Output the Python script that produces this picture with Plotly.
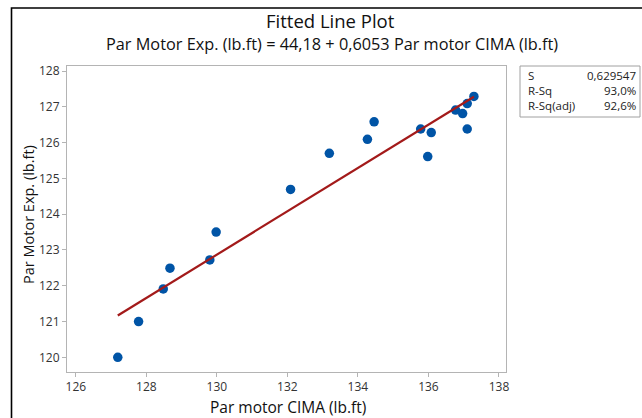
import plotly.graph_objects as go

# Dados
par_cima = [127.19, 127.78, 128.48, 128.67, 129.80, 129.98, 132.09, 133.19, 134.27,
            134.46, 135.78, 135.98, 136.08, 136.77, 136.97, 137.10, 137.10, 137.29]
par_exp = [120.00, 121.00, 121.91, 122.49, 122.72, 123.50, 124.69, 125.70, 126.09,
           126.58, 126.38, 125.61, 126.28, 126.91, 126.81, 127.09, 126.38, 127.29]

intercepto = 44.18
inclinacao = 0.6053

stats_labels = ["S", "R-Sq", "R-Sq(adj)"]
stats_values = ["0,629547", "93,0%", "92,6%"]

W, H = 642, 418
L, R, T, B = 67, 136, 66, 46
pw, ph = W - L - R, H - T - B


def px_x(x):
    return (x - L) / pw


def px_y(y):
    return (H - B - y) / ph


FONT = "Open Sans, Noto Sans, sans-serif"

x_fit = [min(par_cima), max(par_cima)]
y_fit = [intercepto + inclinacao * x for x in x_fit]

fig = go.Figure()

fig.add_trace(go.Scatter(
    x=par_cima, y=par_exp, mode="markers",
    marker=dict(color="#0054A6", size=9.5),
    showlegend=False
))

fig.add_trace(go.Scatter(
    x=x_fit, y=y_fit, mode="lines",
    line=dict(color="#A31A1A", width=2.2),
    showlegend=False
))

fig.update_layout(
    width=W, height=H,
    margin=dict(l=L, r=R, t=T, b=B),
    paper_bgcolor="white",
    plot_bgcolor="white",
    font=dict(family=FONT, color="#222222", size=12),
    xaxis=dict(
        range=[125.75, 138.2], tickvals=[126, 128, 130, 132, 134, 136, 138],
        showgrid=False, zeroline=False,
        showline=True, linecolor="#b4b4b4", linewidth=1, mirror=True,
        ticks="outside", ticklen=4, tickcolor="#b4b4b4",
        tickfont=dict(size=12, color="#333333"),
    ),
    yaxis=dict(
        range=[119.59, 128.14], tickvals=[120, 121, 122, 123, 124, 125, 126, 127, 128],
        showgrid=False, zeroline=False,
        showline=True, linecolor="#b4b4b4", linewidth=1, mirror=True,
        ticks="outside", ticklen=4, tickcolor="#b4b4b4",
        tickfont=dict(size=12, color="#333333"),
    ),
)

# Títulos
fig.add_annotation(
    text="Fitted Line Plot", xref="paper", yref="paper",
    x=px_x(330), y=px_y(20), showarrow=False,
    font=dict(size=18.5, color="#111111", family=FONT), xanchor="center", yanchor="middle"
)
fig.add_annotation(
    text="Par Motor Exp. (lb.ft) = 44,18 + 0,6053 Par motor CIMA (lb.ft)",
    xref="paper", yref="paper",
    x=px_x(332), y=px_y(44), showarrow=False,
    font=dict(size=16.3, color="#111111", family=FONT), xanchor="center", yanchor="middle"
)
fig.add_annotation(
    text="Par motor CIMA (lb.ft)", xref="paper", yref="paper",
    x=px_x(288), y=px_y(407), showarrow=False,
    font=dict(size=15.5, color="#111111", family=FONT), xanchor="center", yanchor="middle"
)
fig.add_annotation(
    text="Par Motor Exp. (lb.ft)", xref="paper", yref="paper",
    x=px_x(28), y=px_y(215), showarrow=False, textangle=-90,
    font=dict(size=14.5, color="#111111", family=FONT), xanchor="center", yanchor="middle"
)

# Moldura externa
fig.add_shape(
    type="rect", xref="paper", yref="paper",
    x0=px_x(11.5), x1=px_x(W + 5), y0=px_y(H + 5), y1=px_y(8),
    line=dict(color="black", width=1.6), fillcolor="rgba(0,0,0,0)"
)

# Caixa de estatísticas
fig.add_shape(
    type="rect", xref="paper", yref="paper",
    x0=px_x(520), x1=px_x(640), y0=px_y(117), y1=px_y(66),
    line=dict(color="#a0a0a0", width=1), fillcolor="white"
)
for i, (lab, val) in enumerate(zip(stats_labels, stats_values)):
    yy = px_y(75 + i * 15)
    fig.add_annotation(text=lab, xref="paper", yref="paper", x=px_x(526), y=yy,
                       showarrow=False, xanchor="left", yanchor="middle",
                       font=dict(size=11.5, color="#222222", family=FONT))
    fig.add_annotation(text=val, xref="paper", yref="paper", x=px_x(638), y=yy,
                       showarrow=False, xanchor="right", yanchor="middle",
                       font=dict(size=11.5, color="#222222", family=FONT))

fig.write_html(
    "out.html",
    config={"displayModeBar": False},
    post_script="document.body.style.margin='0px';"
)
